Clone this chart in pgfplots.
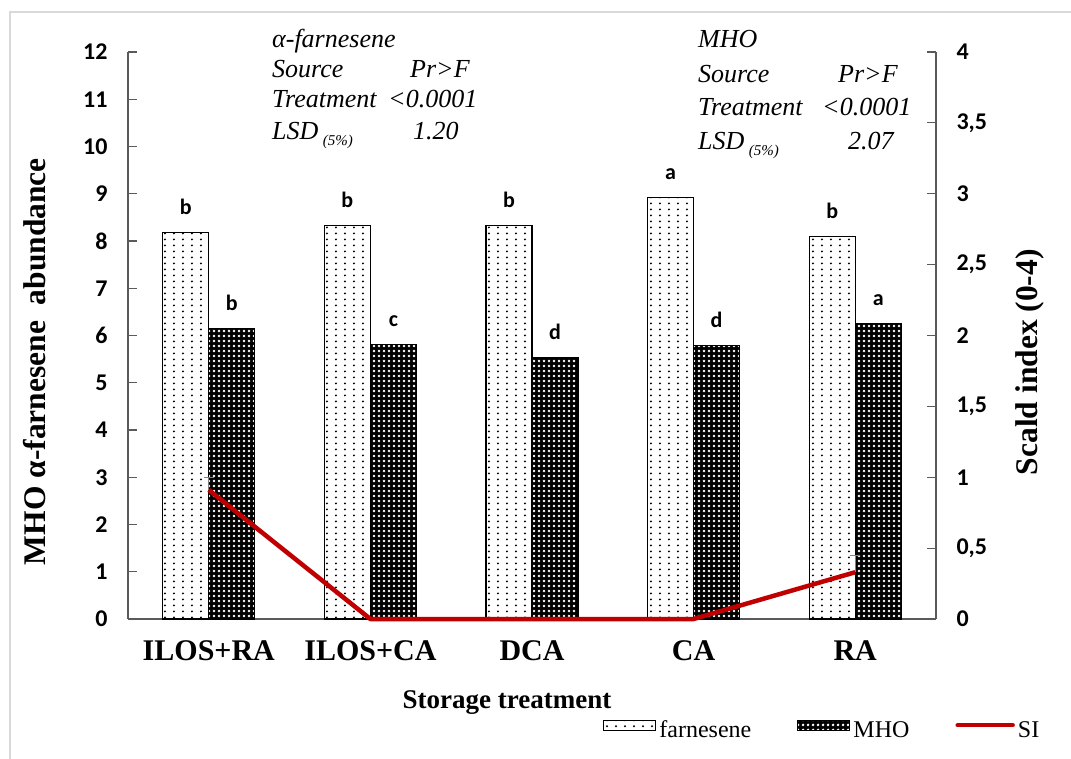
\documentclass[border=0pt]{standalone}
\usepackage{pgfplots}
\pgfplotsset{compat=1.18}
\usepackage{fontspec}
\setmainfont{Liberation Serif}
\newfontfamily\calibri{Carlito}
\usetikzlibrary{patterns}

\definecolor{sired}{RGB}{192,0,0}
\definecolor{axgray}{RGB}{90,90,90}

% sparse dot grid for the farnesene bars
\pgfdeclarepatternformonly{sparsedots}{\pgfqpoint{0pt}{0pt}}{\pgfqpoint{8.5pt}{6pt}}{\pgfqpoint{8.5pt}{6pt}}{%
  \pgfpathcircle{\pgfqpoint{4.2pt}{3pt}}{1.2pt}\pgfusepath{fill}}
% light dots laid over a dark fill for the MHO bars
\pgfdeclarepatternformonly{finedots}{\pgfqpoint{0pt}{0pt}}{\pgfqpoint{4.5pt}{4.5pt}}{\pgfqpoint{4.5pt}{4.5pt}}{%
  \pgfpathcircle{\pgfqpoint{2.25pt}{2.25pt}}{1.55pt}\pgfusepath{fill}}

\tikzset{
  farnbar/.style={fill=white, draw=black, line width=1.1pt, postaction={pattern=sparsedots, pattern color=black}},
  mhobar/.style={fill=black, draw=black, line width=1.1pt, postaction={pattern=finedots, pattern color=white}},
}

\pgfplotsset{/pgf/number format/assume math mode=true}

\begin{document}
\begin{tikzpicture}[x=1pt,y=1pt]
\useasboundingbox (0,0) rectangle (1071,758);
\draw[black!15, line width=1.5pt] (10,-5) -- (10,746) -- (1080,746);

% abundance bars (left scale)
\begin{axis}[
  at={(128pt,139pt)}, anchor=south west,
  scale only axis, width=808pt, height=567pt,
  xmin=-0.5, xmax=4.5, ymin=0, ymax=12,
  axis x line*=bottom, axis y line*=left,
  axis line style={-, axgray, line width=1.2pt},
  xtick={0,1,2,3,4},
  xticklabels={ILOS+RA,ILOS+CA,DCA,CA,RA},
  xtick style={draw=none},
  xticklabel style={font=\bfseries\fontsize{30}{30}\selectfont, yshift=-9pt},
  ytick={0,1,...,12}, ytick align=inside, major tick length=9pt,
  ytick style={axgray, line width=1.2pt},
  yticklabel style={font=\calibri\bfseries\fontsize{24}{24}\selectfont, xshift=-17pt},
  ybar=0pt, bar width=46pt,
  nodes near coords, point meta=explicit symbolic,
  nodes near coords style={font=\calibri\bfseries\fontsize{22}{22}\selectfont, anchor=base, yshift=18pt, inner sep=0pt, black},
  xlabel={Storage treatment},
  ylabel={MHO α-farnesene\ \ abundance},
  every axis x label/.style={at={(axis description cs:0.469,-0.148)}, anchor=center, font=\bfseries\fontsize{27}{27}\selectfont},
  every axis y label/.style={at={(axis description cs:-0.115,0.454)}, rotate=90, anchor=center, font=\bfseries\fontsize{31.5}{31.5}\selectfont},
]
\addplot[farnbar] coordinates {(0,8.18) [b] (1,8.32) [b] (2,8.32) [b] (3,8.92) [a] (4,8.09) [b]};
\addplot[mhobar] coordinates {(0,6.15) [b] (1,5.80) [c] (2,5.54) [d] (3,5.78) [d] (4,6.25) [a]};
\end{axis}

% scald index line (right scale)
\begin{axis}[
  at={(128pt,139pt)}, anchor=south west,
  scale only axis, width=808pt, height=567pt,
  xmin=-0.5, xmax=4.5, ymin=0, ymax=4,
  axis x line=none, axis y line*=right,
  axis line style={-, axgray, line width=1.2pt},
  ytick={0,0.5,1,1.5,2,2.5,3,3.5,4}, ytick align=inside, major tick length=9pt,
  ytick style={axgray, line width=1.2pt},
  yticklabel style={font=\calibri\bfseries\fontsize{24}{24}\selectfont, xshift=17pt,
    /pgf/number format/.cd, fixed, precision=1, use comma},
  clip=false,
  ylabel={Scald index (0-4)},
  every axis y label/.style={at={(axis description cs:1.116,0.453)}, rotate=90, anchor=center, font=\bfseries\fontsize{31.5}{31.5}\selectfont},
  legend columns=3,
  legend style={at={(rel axis cs:0.588,-0.196)}, anchor=west, draw=none, fill=none, inner sep=0pt,
    font=\fontsize{24}{24}\selectfont,
    /tikz/every odd column/.append style={column sep=1pt},
    /tikz/every even column/.append style={column sep=44pt}},
]
\addlegendimage{legend image code/.code={\draw[farnbar] (0pt,0pt) rectangle (52pt,10pt);}}
\addlegendentry{farnesene}
\addlegendimage{legend image code/.code={\draw[mhobar] (0pt,0pt) rectangle (52pt,10pt);}}
\addlegendentry{MHO}
\addplot[forget plot, draw=none, mark=none,
  error bars/.cd, y dir=plus, y explicit,
  error bar style={draw=gray, line width=1pt},
  error mark options={draw=gray, line width=1pt, mark size=5pt, rotate=90}]
  coordinates {(0,0.91) +- (0,0.085) (4,0.33) +- (0,0.12)};
\addplot[sired, line width=4.5pt, line join=round,
  legend image code/.code={\draw[sired, line width=4.5pt, line cap=round] (0pt,5pt) -- (55pt,5pt);}]
  coordinates {(0,0.91) (1,0) (2,0) (3,0) (4,0.33)};
\addlegendentry{SI}
\end{axis}

% ANOVA summaries
\begin{scope}[every node/.style={anchor=base west, inner sep=0pt, font=\itshape\fontsize{26}{26}\selectfont}]
\node at (272,710) {α-farnesene};
\node at (272,680) {Source};
\node at (410,680) {Pr>F};
\node at (272,650) {Treatment};
\node at (388,650) {<0.0001};
\node at (272,618) {LSD\,\raisebox{-6pt}{\fontsize{15}{15}\selectfont (5\%)}};
\node at (413,618) {1.20};
\node at (698,710) {MHO};
\node at (698,675) {Source};
\node at (838,675) {Pr>F};
\node at (698,642) {Treatment};
\node at (822,642) {<0.0001};
\node at (698,608) {LSD\,\raisebox{-6pt}{\fontsize{15}{15}\selectfont (5\%)}};
\node at (848,608) {2.07};
\end{scope}
\end{tikzpicture}
\end{document}
